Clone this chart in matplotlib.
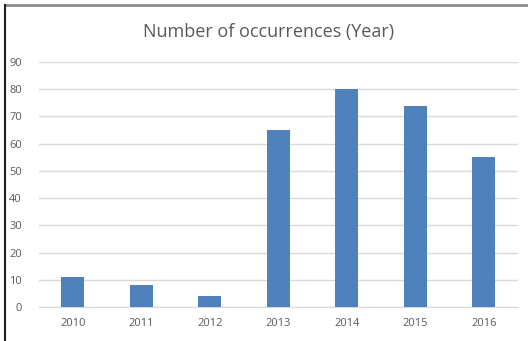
import matplotlib.pyplot as plt
from matplotlib.lines import Line2D

years = ["2010", "2011", "2012", "2013", "2014", "2015", "2016"]
occurrences = [11, 8, 4, 65, 80, 74, 55]
y_ticks = list(range(0, 100, 10))

BAR_COLOR = "#4F81BD"
TEXT_COLOR = "#595959"
GRID_COLOR = "#D9D9D9"

W, H = 528, 341
fig = plt.figure(figsize=(W / 100, H / 100), dpi=100)
fig.patch.set_facecolor("white")

ax = fig.add_axes([38.5 / W, 34 / H, (518 - 38.5) / W, 245 / H])
x = range(len(years))
ax.bar(x, occurrences, width=0.33, color=BAR_COLOR, zorder=3)

ax.set_xlim(-0.5, len(years) - 0.5)
ax.set_ylim(0, 90)
ax.set_yticks(y_ticks)
ax.set_xticks(list(x))
ax.set_xticklabels(years)
ax.yaxis.grid(True, color=GRID_COLOR, linewidth=1, zorder=0)
ax.set_axisbelow(True)
for side in ["top", "right", "left"]:
    ax.spines[side].set_visible(False)
ax.spines["bottom"].set_color(GRID_COLOR)
ax.tick_params(axis="both", length=0, colors=TEXT_COLOR, labelsize=8)
ax.tick_params(axis="y", pad=12)
ax.tick_params(axis="x", pad=8)
for lbl in ax.get_xticklabels() + ax.get_yticklabels():
    lbl.set_family("Open Sans")

fig.text(269 / W, 1 - 32 / H, "Number of occurrences (Year)", ha="center",
         va="center", fontsize=13, color=TEXT_COLOR, family="Open Sans")

# frame edges at top and left
fig.add_artist(Line2D([5 / W, 1], [1 - 4.5 / H, 1 - 4.5 / H],
                      transform=fig.transFigure, color="#8C8C8C", linewidth=2))
fig.add_artist(Line2D([5 / W, 5 / W], [0, 1 - 4.5 / H],
                      transform=fig.transFigure, color="#202020", linewidth=1.5))

fig.savefig("out.png", dpi=100)
